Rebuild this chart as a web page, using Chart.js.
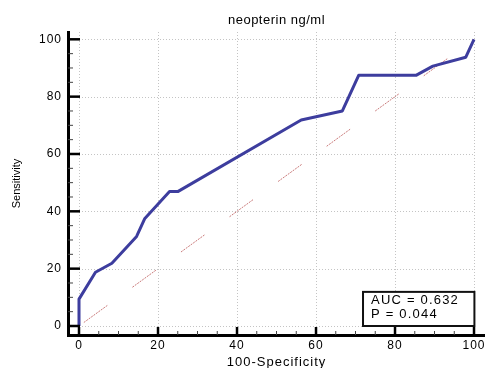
<!DOCTYPE html>
<html>
<head>
<meta charset="utf-8">
<script src="https://cdn.jsdelivr.net/npm/chart.js@4"></script>
<style>
    html, body { margin: 0; padding: 0; background: #fff; }
    #wrap { width: 485px; height: 368px; position: relative; }
</style>
</head>
<body>
<div id="wrap"><canvas id="rocChart"></canvas></div>
<script>
// ROC curve (100-Specificity vs Sensitivity)
const rocX = [0, 0, 4.17, 8.33, 14.58, 16.67, 22.92, 25.0, 56.25, 66.67, 70.83, 85.42, 89.58, 97.92, 100];
const rocY = [0, 9.38, 18.75, 21.88, 31.25, 37.5, 46.88, 46.88, 71.88, 75.0, 87.5, 87.5, 90.63, 93.75, 100];

// diagonal reference line
const diagX = [0, 100];
const diagY = [0, 100];

const tickValues = [0, 20, 40, 60, 80, 100];
const chartTitle = 'neopterin ng/ml';
const xLabel = '100-Specificity';
const yLabel = 'Sensitivity';
const statLines = ['AUC = 0.632', 'P = 0.044'];

const FONT = "'Liberation Sans', Arial, sans-serif";

const toPoints = (xs, ys) => xs.map((x, i) => ({ x: x, y: ys[i] }));

// grid dotted lines, drawn under the curves
const gridLines = {
    id: 'gridLines',
    beforeDatasetsDraw(chart) {
        const { ctx, chartArea, scales: { x, y } } = chart;
        ctx.save();
        ctx.strokeStyle = '#c4c4c4';
        ctx.lineWidth = 1;
        ctx.setLineDash([1, 2]);
        tickValues.forEach(v => {
            const px = Math.round(x.getPixelForValue(v)) + 0.5;
            ctx.beginPath();
            ctx.moveTo(px, chartArea.top);
            ctx.lineTo(px, chartArea.bottom - 2);
            ctx.stroke();
            const py = Math.round(y.getPixelForValue(v)) + 0.5;
            ctx.beginPath();
            ctx.moveTo(x.getPixelForValue(0), py);
            ctx.lineTo(x.getPixelForValue(100), py);
            ctx.stroke();
        });
        ctx.restore();
    }
};

// inward major / minor tick marks
const axisTicks = {
    id: 'axisTicks',
    afterDatasetsDraw(chart) {
        const { ctx, chartArea, scales: { x, y } } = chart;
        ctx.save();
        for (let v = 0; v <= 100; v += 5) {
            const major = v % 20 === 0;
            ctx.lineWidth = major ? 2.5 : 1;
            ctx.strokeStyle = major ? '#000' : '#444';
            const px = x.getPixelForValue(v);
            ctx.beginPath();
            ctx.moveTo(px, chartArea.bottom);
            ctx.lineTo(px, chartArea.bottom - (major ? 8 : 4));
            ctx.stroke();
            const py = y.getPixelForValue(v);
            ctx.beginPath();
            ctx.moveTo(chartArea.left, py);
            ctx.lineTo(chartArea.left + (major ? 12 : 5), py);
            ctx.stroke();
        }
        ctx.restore();
    }
};

// titles and the AUC box
const labels = {
    id: 'labels',
    beforeDraw(chart) {
        chart.ctx.letterSpacing = '1px';
    },
    afterDraw(chart) {
        const { ctx, chartArea, scales: { x, y } } = chart;
        const cx = (chartArea.left + chartArea.right) / 2;
        ctx.save();
        ctx.fillStyle = '#000';
        ctx.textAlign = 'center';
        ctx.textBaseline = 'alphabetic';

        ctx.letterSpacing = '0.5px';
        ctx.font = '13px ' + FONT;
        ctx.fillText(chartTitle, cx, 24);

        ctx.letterSpacing = '1px';
        ctx.fillText(xLabel, cx, 366);

        ctx.letterSpacing = '0px';
        ctx.font = '11px ' + FONT;
        ctx.translate(20, (chartArea.top + chartArea.bottom) / 2);
        ctx.rotate(-Math.PI / 2);
        ctx.fillText(yLabel, 0, 0);
        ctx.setTransform(1, 0, 0, 1, 0, 0);

        // stats box
        const bx0 = x.getPixelForValue(71.9), bx1 = x.getPixelForValue(100.1);
        const by0 = y.getPixelForValue(11.9), by1 = y.getPixelForValue(0);
        ctx.fillStyle = '#fff';
        ctx.fillRect(bx0, by0, bx1 - bx0, by1 - by0);
        ctx.strokeStyle = '#111';
        ctx.lineWidth = 2;
        ctx.strokeRect(bx0, by0, bx1 - bx0, by1 - by0);
        ctx.fillStyle = '#000';
        ctx.textAlign = 'left';
        ctx.textBaseline = 'middle';
        ctx.letterSpacing = '1.2px';
        ctx.font = '13px ' + FONT;
        ctx.fillText(statLines[0], bx0 + 8, by0 + 9);
        ctx.fillText(statLines[1], bx0 + 8, by0 + 23);
        ctx.restore();
    }
};

new Chart(document.getElementById('rocChart'), {
    type: 'scatter',
    data: {
        datasets: [{
            label: 'ROC',
            data: toPoints(rocX, rocY),
            showLine: true,
            borderColor: '#3d3d9e',
            borderWidth: 3,
            borderJoinStyle: 'round',
            pointRadius: 0,
            tension: 0,
            order: 1
        }, {
            label: 'Reference',
            data: toPoints(diagX, diagY),
            showLine: true,
            borderColor: '#c97a7a',
            borderWidth: 1,
            borderDash: [2, 1, 2, 1, 2, 1, 2, 1, 2, 1, 2, 1, 2, 1, 2, 1, 2, 1, 2, 31],
            borderDashOffset: 54,
            pointRadius: 0,
            order: 2
        }]
    },
    options: {
        responsive: true,
        maintainAspectRatio: false,
        animation: false,
        layout: { padding: { top: 32, left: 0, right: 0, bottom: 0 } },
        plugins: { legend: { display: false }, tooltip: { enabled: false } },
        scales: {
            x: {
                type: 'linear',
                min: -2.785,
                max: 102.78,
                afterBuildTicks: s => { s.ticks = tickValues.map(v => ({ value: v })); },
                afterFit: s => { s.height = 33; s.paddingLeft = 0; s.paddingRight = 0; },
                grid: { display: false, drawTicks: false },
                border: { color: '#000', width: 3 },
                ticks: { padding: 3, color: '#000', font: { family: FONT, size: 12 }, maxRotation: 0, autoSkip: false }
            },
            y: {
                type: 'linear',
                min: -3.14,
                max: 102.55,
                afterBuildTicks: s => { s.ticks = tickValues.map(v => ({ value: v })); },
                afterFit: s => { s.width = 68; s.paddingTop = 0; s.paddingBottom = 0; },
                grid: { display: false, drawTicks: false },
                border: { color: '#000', width: 3 },
                ticks: { padding: 6, color: '#000', font: { family: FONT, size: 12 }, autoSkip: false }
            }
        }
    },
    plugins: [gridLines, axisTicks, labels]
});
</script>
</body>
</html>
